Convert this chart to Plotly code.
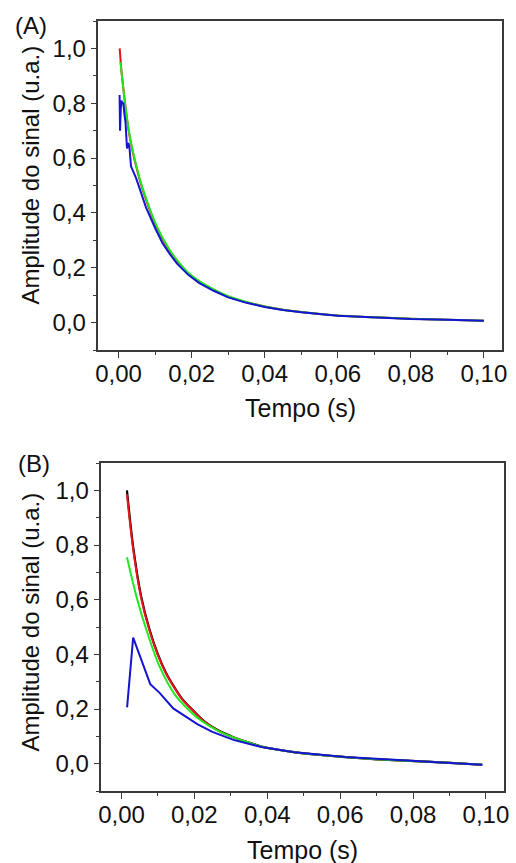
import plotly.graph_objects as go

# ---------------- Panel A data ----------------
a_red_x = [0.0003, 0.0007, 0.001, 0.002, 0.003, 0.004, 0.005, 0.006, 0.008, 0.010, 0.012, 0.014, 0.016,
           0.019, 0.022, 0.026, 0.030, 0.035, 0.040, 0.045, 0.050, 0.060, 0.070, 0.080, 0.090, 0.100]
a_red_y = [1.00, 0.93, 0.89, 0.775, 0.68, 0.615, 0.56, 0.51, 0.43, 0.36, 0.305, 0.26, 0.225,
           0.18, 0.15, 0.12, 0.095, 0.074, 0.059, 0.047, 0.039, 0.026, 0.019, 0.014, 0.010, 0.007]

a_green_x = [0.0005, 0.001, 0.002, 0.003, 0.004, 0.005, 0.006, 0.008, 0.010, 0.012, 0.014, 0.016,
             0.019, 0.022, 0.026, 0.030, 0.035, 0.040, 0.045, 0.050, 0.060, 0.070, 0.080, 0.090, 0.100]
a_green_y = [0.95, 0.89, 0.775, 0.685, 0.62, 0.565, 0.515, 0.435, 0.365, 0.31, 0.265, 0.228,
             0.183, 0.152, 0.121, 0.096, 0.075, 0.059, 0.047, 0.039, 0.026, 0.019, 0.014, 0.010, 0.007]

a_blue_x = [0.00027, 0.0003, 0.0004, 0.0006, 0.0008, 0.001, 0.0013, 0.0016, 0.0019, 0.0023, 0.0027,
            0.003, 0.0034, 0.0048, 0.0075, 0.010, 0.012, 0.014, 0.016, 0.019, 0.022, 0.026, 0.030,
            0.035, 0.040, 0.045, 0.050, 0.060, 0.070, 0.080, 0.090, 0.100]
a_blue_y = [0.83, 0.76, 0.70, 0.78, 0.81, 0.80, 0.80, 0.76, 0.73, 0.635, 0.655,
            0.635, 0.57, 0.527, 0.42, 0.345, 0.29, 0.25, 0.215, 0.175, 0.145, 0.116, 0.092,
            0.072, 0.057, 0.046, 0.038, 0.025, 0.018, 0.013, 0.010, 0.007]

# ---------------- Panel B data ----------------
b_black_x = [0.0015, 0.0032, 0.0054, 0.0077, 0.010, 0.0122, 0.0145, 0.0167, 0.020, 0.023, 0.0265,
             0.0307, 0.035, 0.0384, 0.043, 0.0474, 0.052, 0.0614, 0.070, 0.0794, 0.090, 0.099]
b_black_y = [1.00, 0.794, 0.612, 0.491, 0.40, 0.333, 0.28, 0.236, 0.19, 0.152, 0.122,
             0.097, 0.077, 0.063, 0.051, 0.042, 0.035, 0.024, 0.016, 0.010, 0.003, -0.004]

b_red_x = [0.0015, 0.0032, 0.0054, 0.0077, 0.010, 0.0122, 0.0145, 0.0167, 0.020, 0.023, 0.0265,
           0.0307, 0.035, 0.0384, 0.043, 0.0474, 0.052, 0.0614, 0.070, 0.0794, 0.090, 0.099]
b_red_y = [0.985, 0.785, 0.605, 0.486, 0.396, 0.330, 0.278, 0.234, 0.189, 0.151, 0.121,
           0.096, 0.077, 0.063, 0.051, 0.042, 0.035, 0.024, 0.016, 0.010, 0.003, -0.004]

b_green_x = [0.0015, 0.0041, 0.0068, 0.0104, 0.0149, 0.0212, 0.026, 0.0307, 0.035, 0.0384, 0.043,
             0.0474, 0.052, 0.0614, 0.070, 0.0794, 0.090, 0.099]
b_green_y = [0.755, 0.612, 0.491, 0.357, 0.248, 0.164, 0.124, 0.096, 0.077, 0.063, 0.051,
             0.042, 0.035, 0.024, 0.016, 0.010, 0.003, -0.004]

b_blue_x = [0.00154, 0.0032, 0.0079, 0.0104, 0.0142, 0.0208, 0.0248, 0.0307, 0.0384, 0.0474,
            0.0614, 0.0794, 0.099]
b_blue_y = [0.206, 0.461, 0.291, 0.26, 0.202, 0.145, 0.117, 0.087, 0.061, 0.042,
            0.024, 0.010, -0.004]

x_ticks = [0.00, 0.02, 0.04, 0.06, 0.08, 0.10]
y_ticks = [0.0, 0.2, 0.4, 0.6, 0.8, 1.0]

RED = "#e8141a"
GREEN = "#1ee81e"
BLUE = "#1414d2"
BLACK = "#000000"

fig = go.Figure()

def line(x, y, color, xa, ya, w=2, shape="linear"):
    ln = dict(color=color, width=w, shape=shape)
    if shape == "spline":
        ln["smoothing"] = 0.8
    fig.add_trace(go.Scatter(x=x, y=y, mode="lines", line=ln,
                             xaxis=xa, yaxis=ya, showlegend=False, hoverinfo="skip"))

# Panel A
line(a_red_x, a_red_y, RED, "x", "y", 2, "spline")
line(a_green_x, a_green_y, GREEN, "x", "y", 2, "spline")
line(a_blue_x, a_blue_y, BLUE, "x", "y")
# Panel B
line(b_black_x, b_black_y, BLACK, "x2", "y2", 2.2, "spline")
line(b_red_x, b_red_y, RED, "x2", "y2", 2, "spline")
line(b_green_x, b_green_y, GREEN, "x2", "y2", 2, "spline")
line(b_blue_x, b_blue_y, BLUE, "x2", "y2", 2)

W, H = 516, 863
FONT = "Liberation Sans, Arial, sans-serif"
AXC = "#3a3a3a"
TICKSIZE = 24

def xaxis(domain, anchor):
    return dict(domain=domain, anchor=anchor, range=[-0.0055, 0.105],
                tickmode="array", tickvals=x_ticks, tickformat=".2f",
                ticks="outside", ticklen=6, tickwidth=1.3, tickcolor=AXC,
                ticklabelstandoff=-5,
                minor=dict(dtick=0.01, tick0=0, ticks="outside", ticklen=3.5, tickwidth=1.2, tickcolor=AXC),
                showline=True, linecolor=AXC, linewidth=1.5, mirror=True,
                showgrid=False, zeroline=False,
                tickfont=dict(family=FONT, size=TICKSIZE, color="#111"))

def yaxis(domain, anchor):
    return dict(domain=domain, anchor=anchor, range=[-0.1, 1.1],
                tickmode="array", tickvals=y_ticks, tickformat=".1f",
                ticks="outside", ticklen=6, tickwidth=1.3, tickcolor=AXC,
                minor=dict(dtick=0.1, tick0=0, ticks="outside", ticklen=3.5, tickwidth=1.2, tickcolor=AXC),
                showline=True, linecolor=AXC, linewidth=1.5, mirror=True,
                showgrid=False, zeroline=False,
                tickfont=dict(family=FONT, size=TICKSIZE, color="#111"))

fig.update_layout(
    width=W, height=H,
    margin=dict(l=0, r=0, t=0, b=0),
    paper_bgcolor="white", plot_bgcolor="white",
    separators=",.",
    font=dict(family=FONT, color="#111"),
    xaxis=xaxis([97 / W, 507 / W], "y"),
    yaxis=yaxis([1 - 350 / H, 1 - 21 / H], "x"),
    xaxis2=xaxis([100 / W, 509 / W], "y2"),
    yaxis2=yaxis([1 - 791 / H, 1 - 463 / H], "x2"),
)

def ann(text, x, y, size, angle=0):
    fig.add_annotation(text=text, x=x / W, y=1 - y / H, xref="paper", yref="paper",
                       showarrow=False, textangle=angle, xanchor="center", yanchor="middle",
                       font=dict(family=FONT, size=size, color="#111"))

ann("(A)", 28, 25, 24)
ann("(B)", 31, 463, 24)
ann("Tempo (s)", 302, 408, 25)
ann("Tempo (s)", 304, 850, 25)
ann("Amplitude do sinal (u.a.)", 27, 175, 24, -90)
ann("Amplitude do sinal (u.a.)", 27, 622, 24, -90)

fig.write_html(
    "out.html",
    config={"displayModeBar": False},
    post_script="document.body.style.margin='0';document.body.style.padding='0';"
                "document.body.style.overflow='hidden';"
                "document.documentElement.style.overflow='hidden';",
)
